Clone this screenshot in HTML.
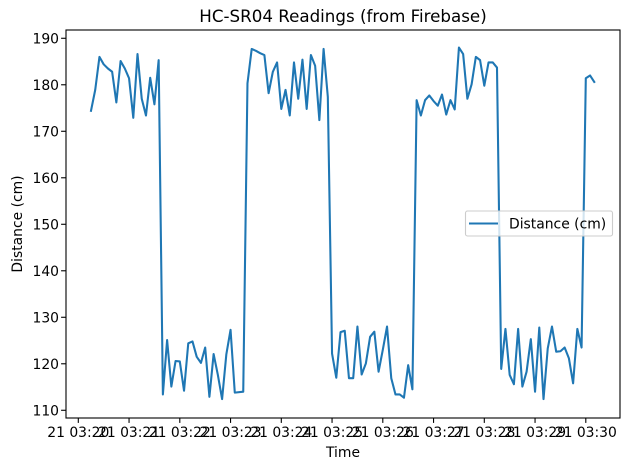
<!DOCTYPE html>
<html><head><meta charset="utf-8">
<style>
html,body{margin:0;padding:0;background:#fff;}
svg{display:block;font-family:"DejaVu Sans","Liberation Sans",sans-serif;}
</style></head>
<body>
<svg id="chart" width="628" height="470" viewBox="0 0 628 470" xmlns="http://www.w3.org/2000/svg">
<rect width="628" height="470" fill="#fff"/>
<text x="343" y="22" font-size="16.7" text-anchor="middle" fill="#000">HC-SR04 Readings (from Firebase)</text>
<g id="yticks"></g>
<g id="xticks"></g>
<path id="series" fill="none" stroke="#1f77b4" stroke-width="2.08" stroke-linejoin="round" stroke-linecap="square"/>
<rect x="66" y="30" width="554" height="388" fill="none" stroke="#000" stroke-width="1.1"/>
<text x="343" y="457" font-size="13.9" text-anchor="middle">Time</text>
<text transform="translate(22,224) rotate(-90)" font-size="13.9" text-anchor="middle">Distance (cm)</text>
<g>
<rect x="465.5" y="211" width="147" height="25" rx="2" fill="#fff" fill-opacity="0.8" stroke="#ccc" stroke-width="1.1"/>
<line x1="469" y1="223.5" x2="498" y2="223.5" stroke="#1f77b4" stroke-width="2.08"/>
<text x="509" y="228.5" font-size="13.9">Distance (cm)</text>
</g>
</svg>
<script>
// seconds after 03:20:00
const timesSec = [15,20,25,30,35,40,45,50,55,60,65,70,75,80,85,90,95,100,105,110,115,120,125,130,135,140,145,150,155,160,165,170,175,180,185,
195,200,205,210,215,
220,225,230,235,240,245,250,255,260,265,270,275,280,285,290,295,300,305,310,315,320,325,330,335,340,345,350,355,360,365,370,375,380,385,390,395,400,405,410,415,420,425,
430,435,440,445,450,455,460,465,470,475,480,485,490,495,500,505,510,515,520,525,530,535,540,545,550,555,560,565,570,575,580,585,590,595,600,605,610];
const distances = [174.4,178.9,186.0,184.4,183.5,182.8,176.2,185.1,183.5,181.4,172.9,186.6,177.0,173.4,181.5,175.8,185.3,113.4,125.1,115.1,120.6,120.5,114.2,124.4,124.8,121.5,120.2,123.5,112.9,122.1,117.6,112.4,122.0,127.3,113.8,
114.0,180.3,187.7,187.3,186.8,
186.4,178.2,182.8,184.8,174.8,178.9,173.4,184.8,177.0,185.4,174.8,186.4,184.1,172.4,187.7,177.4,122.2,117.0,126.8,127.1,116.9,116.9,128.0,117.7,120.1,125.8,126.9,118.3,123.0,128.0,116.9,113.4,113.4,112.7,119.7,114.5,176.7,173.4,176.7,177.7,176.5,175.5,
177.9,173.6,176.7,174.7,188.0,186.6,177.0,180.1,186.0,185.3,179.8,184.8,184.8,183.7,118.9,127.5,117.6,115.6,127.5,115.1,118.3,125.3,114.0,127.8,112.4,123.3,128.0,122.6,122.7,123.5,121.2,115.8,127.5,123.5,181.4,182.0,180.6];
const yTickValues = [110,120,130,140,150,160,170,180,190];
const xTickMinutes = [0,1,2,3,4,5,6,7,8,9,10];
const xTickLabels = ["21 03:20","21 03:21","21 03:22","21 03:23","21 03:24","21 03:25","21 03:26","21 03:27","21 03:28","21 03:29","21 03:30"];

const NS="http://www.w3.org/2000/svg";
const L=66,R=620,T=30,B=418;
const xMin=-0.2424,xMax=10.6739,yMin=108.34,yMax=191.78;
function xs(m){return L+(m-xMin)/(xMax-xMin)*(R-L);}
function ys(v){return B-(v-yMin)/(yMax-yMin)*(B-T);}

const yg=document.getElementById('yticks');
yTickValues.forEach(v=>{
  const y=ys(v);
  const ln=document.createElementNS(NS,'line');
  ln.setAttribute('x1',L-4.9);ln.setAttribute('x2',L);ln.setAttribute('y1',y);ln.setAttribute('y2',y);
  ln.setAttribute('stroke','#000');ln.setAttribute('stroke-width','1.1');
  
  
  yg.appendChild(ln);
  const t=document.createElementNS(NS,'text');
  t.setAttribute('x',L-7);t.setAttribute('y',y+5);t.setAttribute('text-anchor','end');t.setAttribute('font-size','13.9');
  t.textContent=v;
  
  
  yg.appendChild(t);
});
const xg=document.getElementById('xticks');
xTickMinutes.forEach((m,i)=>{
  const x=xs(m);
  const ln=document.createElementNS(NS,'line');
  ln.setAttribute('x1',x);ln.setAttribute('x2',x);ln.setAttribute('y1',B);ln.setAttribute('y2',B+4.9);
  ln.setAttribute('stroke','#000');ln.setAttribute('stroke-width','1.1');
  
  
  xg.appendChild(ln);
  const t=document.createElementNS(NS,'text');
  t.setAttribute('x',x);t.setAttribute('y',B+19);t.setAttribute('text-anchor','middle');t.setAttribute('font-size','13.9');
  t.textContent=xTickLabels[i];
  
  
  xg.appendChild(t);
});
let d='';
timesSec.forEach((s,i)=>{d+=(i?'L':'M')+xs(s/60).toFixed(2)+','+ys(distances[i]).toFixed(2);});
document.getElementById('series').setAttribute('d',d);
</script>
</body></html>
